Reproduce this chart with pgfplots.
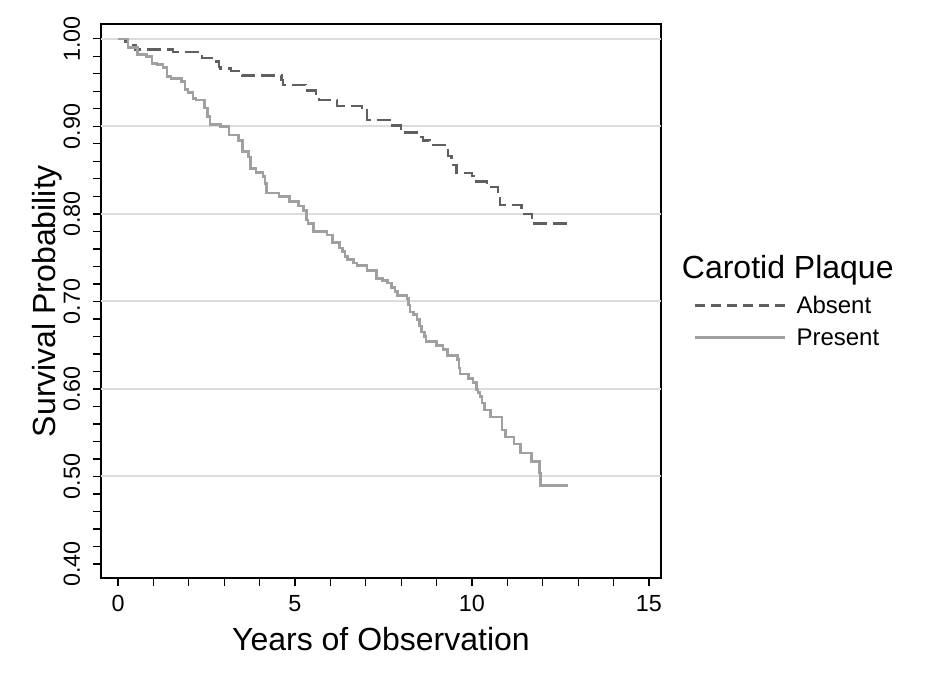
\documentclass[border=0pt]{standalone}
\usepackage{fontspec}
\setmainfont{Liberation Sans}
\usepackage{pgfplots}
\pgfplotsset{compat=1.18}
\definecolor{absentc}{RGB}{95,95,95}
\definecolor{presentc}{RGB}{160,160,160}
\definecolor{gridc}{RGB}{220,220,220}

\begin{document}
\begin{tikzpicture}
\begin{axis}[
    at={(0,0)}, anchor=south west,
    scale only axis, width=420pt, height=415.5pt,
    clip=false,
    xmin=-0.48, xmax=15.34, ymin=0.384, ymax=1.017,
    xtick={0,5,10,15}, minor x tick num=4,
    ytick={0.4,0.5,0.6,0.7,0.8,0.9,1.0}, minor y tick num=4,
    xtick pos=bottom, ytick pos=left,
    tick align=outside,
    major tick length=6pt, minor tick length=6pt,
    every tick/.style={black, line width=0.9pt},
    axis line style={line width=1.4pt},
    extra y ticks={0.5,0.6,0.7,0.8,0.9,1.0},
    extra y tick labels={},
    extra y tick style={grid=major, major grid style={gridc, line width=1.5pt}, major tick length=0pt},
    /pgf/number format/assume math mode=true,
    tick label style={font=\fontsize{17.5}{21}\selectfont},
    yticklabel style={rotate=90, anchor=south, inner sep=9.5pt,
        /pgf/number format/fixed, /pgf/number format/fixed zerofill,
        /pgf/number format/precision=2},
    xticklabel style={anchor=north, inner sep=7pt},
    xlabel={Years of Observation},
    ylabel={Survival Probability},
    label style={font=\fontsize{24}{28}\selectfont},
    xlabel style={at={(axis description cs:0.5,-0.130)}, anchor=base},
    ylabel style={at={(axis description cs:-0.0804,0.5)}, anchor=base},
    legend style={at={(axis description cs:1.057,0.4633)}, anchor=west,
        draw=none, fill=none, inner sep=0pt, row sep=11pt, column sep=8pt,
        font=\fontsize{18}{21}\selectfont,
        nodes={inner sep=0pt, text height=13pt, text depth=0pt}},
    legend cell align=left,
    legend image code/.code={\draw[#1] (0pt,0pt) -- (67.5pt,0pt);},
]
% Absent
\addplot[const plot, absentc, line width=1.8pt, dash pattern=on 10.5pt off 4.5pt,
    legend image post style={dash pattern=on 7.5pt off 4.5pt}] coordinates {
    (0,1.0) (0.2,0.997) (0.35,0.993) (0.5,0.988) (1.55,0.985) (2.25,0.982)
    (2.37,0.978) (2.65,0.974) (2.85,0.968) (2.9,0.966) (3.2,0.963) (3.5,0.958)
    (4.62,0.953) (4.66,0.947) (5.3,0.941) (5.6,0.936) (5.68,0.930) (6.18,0.923)
    (6.9,0.918) (7.03,0.907) (7.68,0.901) (8.0,0.893) (8.5,0.888) (8.62,0.884)
    (8.8,0.879) (9.24,0.873) (9.33,0.866) (9.42,0.856) (9.56,0.847) (10.0,0.843)
    (10.13,0.837) (10.42,0.831) (10.74,0.824) (10.8,0.810) (11.4,0.800)
    (11.7,0.789) (12.77,0.789)
};
\addlegendentry{Absent}
% Present
\addplot[const plot, presentc, line width=2pt] coordinates {
    (0,1.0) (0.28,0.990) (0.55,0.982) (0.8,0.980) (0.96,0.972) (1.1,0.971)
    (1.27,0.967) (1.38,0.957) (1.5,0.955) (1.8,0.951) (1.89,0.942) (1.98,0.939)
    (2.12,0.932) (2.2,0.930) (2.45,0.921) (2.52,0.911) (2.6,0.902) (2.9,0.900)
    (3.14,0.890) (3.4,0.884) (3.52,0.871) (3.68,0.865) (3.75,0.852) (3.9,0.847)
    (4.1,0.843) (4.15,0.835) (4.2,0.824) (4.55,0.820) (4.84,0.814) (5.1,0.809)
    (5.24,0.804) (5.32,0.793) (5.37,0.789) (5.52,0.780) (5.9,0.776) (6.06,0.767)
    (6.25,0.761) (6.35,0.757) (6.41,0.751) (6.48,0.748) (6.65,0.744) (6.75,0.741)
    (7.03,0.735) (7.3,0.726) (7.48,0.724) (7.62,0.721) (7.73,0.716) (7.83,0.711)
    (7.9,0.707) (8.16,0.703) (8.2,0.696) (8.25,0.688) (8.35,0.685) (8.45,0.679)
    (8.52,0.672) (8.57,0.665) (8.66,0.660) (8.7,0.654) (9.0,0.650) (9.18,0.645)
    (9.3,0.638) (9.6,0.634) (9.63,0.624) (9.66,0.617) (9.9,0.612) (10.03,0.607)
    (10.12,0.599) (10.17,0.596) (10.23,0.591) (10.28,0.584) (10.35,0.576)
    (10.53,0.568) (10.85,0.553) (10.95,0.545) (11.19,0.537) (11.38,0.527)
    (11.69,0.517) (11.9,0.504) (11.94,0.490) (12.71,0.490)
};
\addlegendentry{Present}
\node[anchor=base west, inner sep=0pt, font=\fontsize{24}{28}\selectfont]
    at (axis description cs:1.0369,0.5397) {Carotid Plaque};
\end{axis}
\pgfresetboundingbox
\path[use as bounding box] (-75.75pt,-76.5pt) rectangle (625.5pt,433.5pt);
\end{tikzpicture}
\end{document}
